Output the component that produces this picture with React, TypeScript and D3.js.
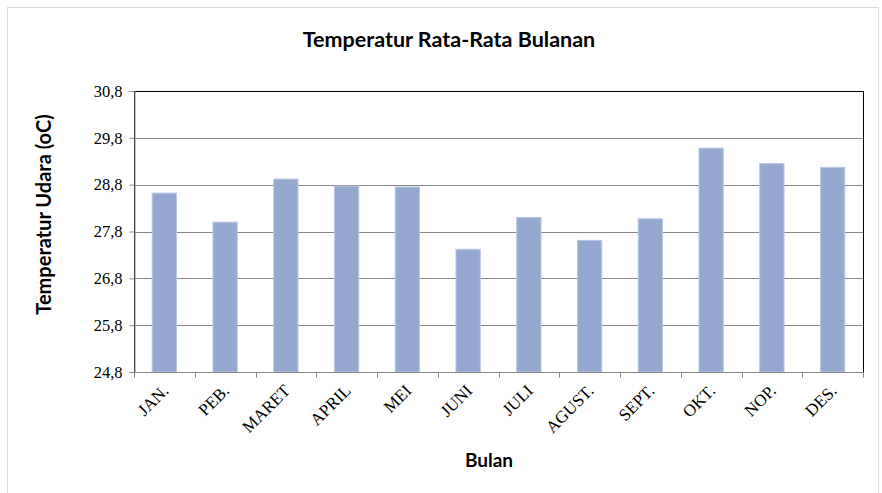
import React from 'react';
import * as d3 from 'd3';

const months = ['JAN.', 'PEB.', 'MARET', 'APRIL', 'MEI', 'JUNI', 'JULI', 'AGUST.', 'SEPT.', 'OKT.', 'NOP.', 'DES.'];
const temps = [28.62, 28.0, 28.92, 28.77, 28.75, 27.42, 28.1, 27.61, 28.07, 29.58, 29.25, 29.17];
const yTicks = [24.8, 25.8, 26.8, 27.8, 28.8, 29.8, 30.8];

const W = 882, H = 493;
const plot = { left: 134, right: 863, top: 91, bottom: 372 };

export default function App() {
  const ref = React.useRef<SVGSVGElement>(null);

  React.useEffect(() => {
    const svg = d3.select(ref.current);
    svg.selectAll('*').remove();

    const x = d3.scaleBand().domain(months).range([plot.left, plot.right]).paddingInner(0.6).paddingOuter(0.3);
    const xTick = d3.scaleBand().domain(months).range([plot.left, plot.right]);
    const y = d3.scaleLinear().domain([24.8, 30.8]).range([plot.bottom, plot.top]);

    svg.append('rect')
      .attr('x', 7.5).attr('y', 7.5).attr('width', 871).attr('height', 495)
      .attr('fill', 'white').attr('stroke', '#d9d9d9');

    svg.append('text')
      .attr('x', 449).attr('y', 47)
      .attr('text-anchor', 'middle')
      .style('font-family', 'Lato, sans-serif').style('font-weight', 'bold').style('font-size', '21.5px')
      .text('Temperatur Rata-Rata Bulanan');

    // grid
    svg.append('g').selectAll('line').data(yTicks.slice(1, -1)).enter()
      .append('line')
      .attr('x1', plot.left).attr('x2', plot.right)
      .attr('y1', d => Math.round(y(d)) + 0.5).attr('y2', d => Math.round(y(d)) + 0.5)
      .attr('stroke', '#868686');

    // plot border
    svg.append('rect')
      .attr('x', plot.left + 0.5).attr('y', plot.top + 0.5)
      .attr('width', plot.right - plot.left).attr('height', plot.bottom - plot.top)
      .attr('fill', 'none').attr('stroke', '#000');

    svg.append('g').selectAll('rect').data(temps).enter()
      .append('rect')
      .attr('x', (d, i) => x(months[i])!)
      .attr('y', d => y(d))
      .attr('width', x.bandwidth())
      .attr('height', d => plot.bottom - y(d))
      .attr('fill', '#95a9d0')
      .attr('stroke', '#b9c7e2').attr('stroke-width', 1);

    // y axis
    const ya = svg.append('g').attr('transform', `translate(${plot.left + 0.5},0)`)
      .call(d3.axisLeft(y).tickValues(yTicks).tickSize(5).tickFormat(d => d3.format('.1f')(d as number).replace('.', ',')));
    ya.select('.domain').attr('stroke', '#868686');
    ya.selectAll('.tick line').attr('stroke', '#868686');
    ya.selectAll('text')
      .attr('x', -12).attr('fill', '#000')
      .style('font-family', '"Liberation Serif", serif').style('font-size', '16.5px');

    // x axis
    const xa = svg.append('g').attr('transform', `translate(0,${plot.bottom + 0.5})`);
    xa.append('line').attr('x1', plot.left).attr('x2', plot.right + 1).attr('stroke', '#868686');
    xa.selectAll('line.t').data([...months.map(m => xTick(m)!), plot.right]).enter()
      .append('line').attr('class', 't')
      .attr('x1', d => Math.round(d) + 0.5).attr('x2', d => Math.round(d) + 0.5)
      .attr('y1', 0).attr('y2', 5).attr('stroke', '#868686');
    xa.selectAll('text').data(months).enter()
      .append('text')
      .attr('transform', d => `translate(${xTick(d)! + xTick.bandwidth() / 2 + 1},15) rotate(-45)`)
      .attr('text-anchor', 'end')
      .attr('dy', '0.35em')
      .style('font-family', '"Liberation Serif", serif').style('font-size', '17px')
      .text(d => d);

    svg.append('text')
      .attr('x', 489).attr('y', 467)
      .attr('text-anchor', 'middle')
      .style('font-family', 'Lato, sans-serif').style('font-weight', 'bold').style('font-size', '19px')
      .text('Bulan');

    svg.append('text')
      .attr('transform', `translate(51,${(plot.top + plot.bottom) / 2 - 17}) rotate(-90)`)
      .attr('text-anchor', 'middle')
      .style('font-family', 'Lato, sans-serif').style('font-weight', 'bold').style('font-size', '20px')
      .text('Temperatur Udara (oC)');
  }, []);

  return (
    <svg ref={ref} width={W} height={H} style={{ position: 'absolute', left: 0, top: 0 }} />
  );
}
